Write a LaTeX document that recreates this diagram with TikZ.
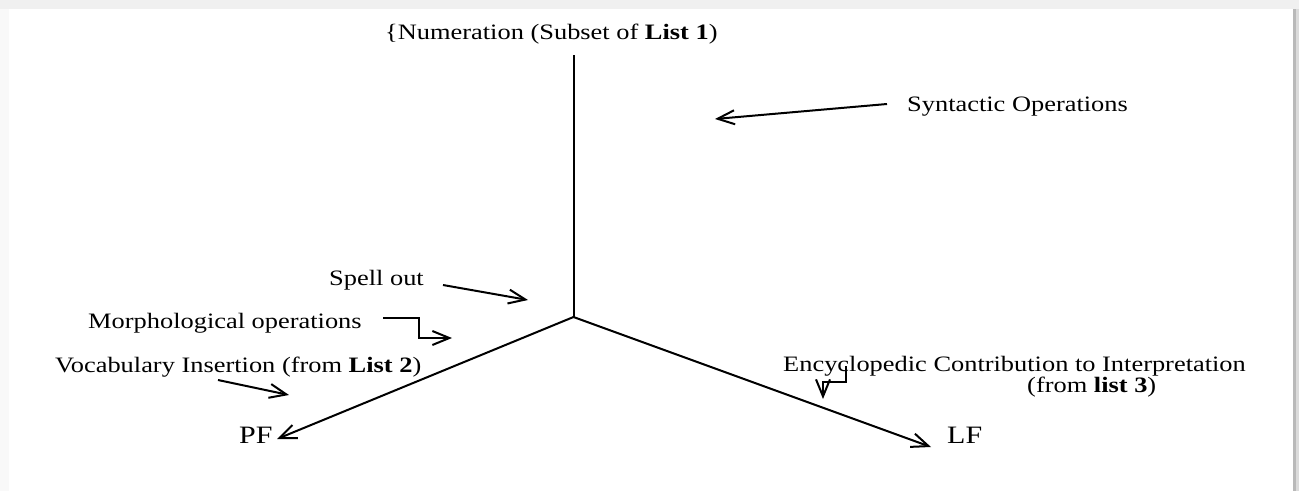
\documentclass[tikz,border=0pt]{standalone}
\usepackage{fontspec}
\setmainfont{Liberation Serif}[FakeStretch=1.2]
\usetikzlibrary{arrows.meta}

\tikzset{
  lbl/.style={inner sep=0pt, anchor=base west, font=\fontsize{22}{26}\selectfont},
  big/.style={inner sep=0pt, anchor=base west, font=\fontsize{25}{29}\selectfont},
  axis/.style={line width=2pt},
  arr/.style={line width=2pt, -{Straight Barb[length=17pt,width=14pt,line width=2pt]}},
}

\begin{document}
\begin{tikzpicture}[x=1pt,y=-1pt]
\useasboundingbox (0,0) rectangle (1299,491);

% page with a soft frame and a shadow on the right
\fill[gray!12] (0,0) rectangle (1299,491);
\fill[gray!5] (0,9) rectangle (9,491);
\fill[white] (9,9) rectangle (1293,491);
\fill[gray!55] (1293,9) rectangle (1296,491);
\fill[gray!28] (1296,9) rectangle (1299,491);

% labels
\node[lbl] (num) at (385,39) {\{Numeration (Subset of \textbf{List 1})};
\node[lbl] (syn) at (907,111) {Syntactic Operations};
\node[lbl] (spell) at (329,285) {Spell out};
\node[lbl] (morph) at (88,328) {Morphological operations};
\node[lbl] (voc) at (55,372) {Vocabulary Insertion (from \textbf{List 2})};
\node[lbl] (enc) at (783,371) {Encyclopedic Contribution to Interpretation};
\node[lbl] (enc2) at (1027,392) {(from \textbf{list 3})};
\node[big] (pf) at (239,443) {PF};
\node[big] (lf) at (947,443) {LF};

% points of the derivation tree
\coordinate (top) at (573.5,55);
\coordinate (j) at (573.5,317);
\coordinate (pftip) at (277,439);
\coordinate (lftip) at (931,447);

% the tree: numeration down to spell-out, then split to PF and LF
\draw[axis] (top) -- (j);
\draw[arr] (j) -- (pftip);
\draw[arr] (j) -- (lftip);

% operation pointers
\coordinate (syn0) at (887,104);
\coordinate (syn1) at (715,119);
\draw[arr] (syn0) -- (syn1);

\coordinate (sp0) at (443,285);
\coordinate (sp1) at (528,300);
\draw[arr] (sp0) -- (sp1);

\coordinate (mo0) at (383,318);
\coordinate (mo1) at (452,338);
\draw[arr] (mo0) -- (419,318) -- (419,338) -- (mo1);

\coordinate (vo0) at (218,380);
\coordinate (vo1) at (289,395);
\draw[arr] (vo0) -- (vo1);

\coordinate (en0) at (846,366);
\coordinate (en1) at (823,399);
\draw[arr] (en0) -- (846,382) -- (823,382) -- (en1);
\end{tikzpicture}
\end{document}
